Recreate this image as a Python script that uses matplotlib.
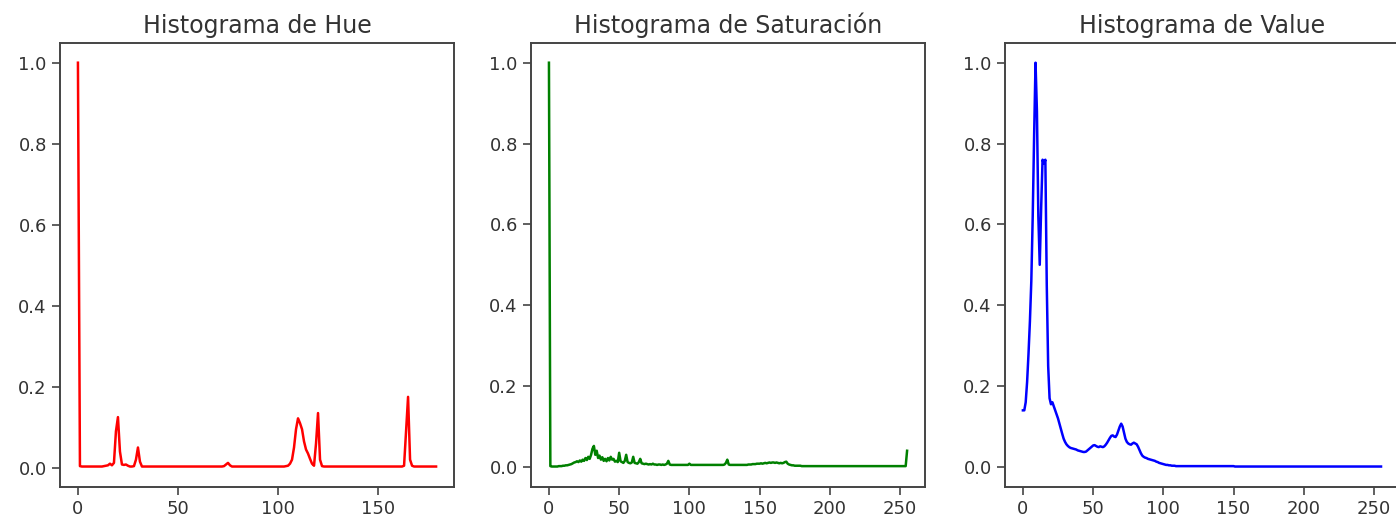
import matplotlib

matplotlib.use('Agg')
import matplotlib.pyplot as plt
import numpy as np

# normalized histograms (max = 1)
hue = [
    1.0, 0.004, 0.003, 0.003, 0.003, 0.003, 0.003, 0.003, 0.003, 0.003,
    0.003, 0.003, 0.003, 0.004, 0.005, 0.006, 0.010, 0.006, 0.012, 0.090,
    0.125, 0.040, 0.008, 0.007, 0.008, 0.005, 0.003, 0.003, 0.004, 0.020,
    0.050, 0.015, 0.003, 0.003, 0.003, 0.003, 0.003, 0.003, 0.003, 0.003,
    0.003, 0.003, 0.003, 0.003, 0.003, 0.003, 0.003, 0.003, 0.003, 0.003,
    0.003, 0.003, 0.003, 0.003, 0.003, 0.003, 0.003, 0.003, 0.003, 0.003,
    0.003, 0.003, 0.003, 0.003, 0.003, 0.003, 0.003, 0.003, 0.003, 0.003,
    0.003, 0.003, 0.003, 0.004, 0.008, 0.012, 0.006, 0.003, 0.003, 0.003,
    0.003, 0.003, 0.003, 0.003, 0.003, 0.003, 0.003, 0.003, 0.003, 0.003,
    0.003, 0.003, 0.003, 0.003, 0.003, 0.003, 0.003, 0.003, 0.003, 0.003,
    0.003, 0.003, 0.003, 0.003, 0.004, 0.005, 0.010, 0.020, 0.050, 0.095,
    0.122, 0.110, 0.095, 0.065, 0.045, 0.035, 0.022, 0.010, 0.005, 0.060,
    0.135, 0.020, 0.004, 0.003, 0.003, 0.003, 0.003, 0.003, 0.003, 0.003,
    0.003, 0.003, 0.003, 0.003, 0.003, 0.003, 0.003, 0.003, 0.003, 0.003,
    0.003, 0.003, 0.003, 0.003, 0.003, 0.003, 0.003, 0.003, 0.003, 0.003,
    0.003, 0.003, 0.003, 0.003, 0.003, 0.003, 0.003, 0.003, 0.003, 0.003,
    0.003, 0.003, 0.003, 0.005, 0.090, 0.175, 0.020, 0.005, 0.003, 0.003,
    0.003, 0.003, 0.003, 0.003, 0.003, 0.003, 0.003, 0.003, 0.003, 0.003,
]

saturation = [
    1.0, 0.002, 0.001, 0.001, 0.001, 0.001, 0.001, 0.002, 0.002, 0.002,
    0.003, 0.003, 0.004, 0.004, 0.005, 0.006, 0.007, 0.009, 0.011, 0.012,
    0.014, 0.012, 0.016, 0.013, 0.018, 0.015, 0.022, 0.017, 0.025, 0.020,
    0.030, 0.045, 0.052, 0.030, 0.040, 0.022, 0.028, 0.018, 0.024, 0.015,
    0.020, 0.014, 0.022, 0.016, 0.025, 0.018, 0.020, 0.013, 0.015, 0.012,
    0.035, 0.014, 0.012, 0.010, 0.015, 0.030, 0.012, 0.010, 0.009, 0.011,
    0.025, 0.010, 0.009, 0.008, 0.012, 0.020, 0.009, 0.008, 0.007, 0.008,
    0.007, 0.006, 0.007, 0.006, 0.008, 0.006, 0.006, 0.005, 0.006, 0.006,
    0.005, 0.006, 0.005, 0.006, 0.008, 0.015, 0.006, 0.005, 0.005, 0.005,
    0.005, 0.005, 0.005, 0.005, 0.005, 0.005, 0.005, 0.005, 0.005, 0.005,
    0.008, 0.005, 0.005, 0.005, 0.005, 0.005, 0.005, 0.005, 0.005, 0.005,
    0.005, 0.005, 0.005, 0.005, 0.005, 0.005, 0.005, 0.005, 0.005, 0.005,
    0.005, 0.005, 0.005, 0.005, 0.005, 0.006, 0.010, 0.018, 0.006, 0.005,
    0.005, 0.005, 0.005, 0.005, 0.005, 0.005, 0.005, 0.005, 0.005, 0.005,
    0.005, 0.005, 0.006, 0.006, 0.006, 0.007, 0.007, 0.007, 0.008, 0.008,
    0.008, 0.009, 0.008, 0.009, 0.010, 0.009, 0.010, 0.011, 0.010, 0.011,
    0.011, 0.010, 0.011, 0.010, 0.009, 0.010, 0.009, 0.010, 0.012, 0.013,
    0.008, 0.006, 0.005, 0.004, 0.004, 0.003, 0.003, 0.003, 0.003, 0.003,
    0.002, 0.002, 0.002, 0.002, 0.002, 0.002, 0.002, 0.002, 0.002, 0.002,
    0.002, 0.002, 0.002, 0.002, 0.002, 0.002, 0.002, 0.002, 0.002, 0.002,
    0.002, 0.002, 0.002, 0.002, 0.002, 0.002, 0.002, 0.002, 0.002, 0.002,
    0.002, 0.002, 0.002, 0.002, 0.002, 0.002, 0.002, 0.002, 0.002, 0.002,
    0.002, 0.002, 0.002, 0.002, 0.002, 0.002, 0.002, 0.002, 0.002, 0.002,
    0.002, 0.002, 0.002, 0.002, 0.002, 0.002, 0.002, 0.002, 0.002, 0.002,
    0.002, 0.002, 0.002, 0.002, 0.002, 0.002, 0.002, 0.002, 0.002, 0.002,
    0.002, 0.002, 0.002, 0.002, 0.002, 0.040,
]

value = [
    0.140, 0.140, 0.160, 0.210, 0.280, 0.360, 0.460, 0.620, 0.820, 1.000,
    0.880, 0.620, 0.500, 0.640, 0.760, 0.750, 0.760, 0.450, 0.250, 0.170,
    0.155, 0.160, 0.150, 0.140, 0.130, 0.120, 0.107, 0.095, 0.082, 0.070,
    0.062, 0.056, 0.052, 0.049, 0.047, 0.046, 0.045, 0.044, 0.043, 0.041,
    0.040, 0.039, 0.038, 0.037, 0.037, 0.038, 0.041, 0.044, 0.047, 0.050,
    0.053, 0.054, 0.052, 0.050, 0.049, 0.051, 0.050, 0.049, 0.051, 0.055,
    0.060, 0.066, 0.072, 0.077, 0.078, 0.075, 0.074, 0.080, 0.090, 0.100,
    0.107, 0.100, 0.085, 0.070, 0.062, 0.058, 0.056, 0.055, 0.058, 0.060,
    0.058, 0.056, 0.050, 0.042, 0.034, 0.028, 0.025, 0.023, 0.022, 0.020,
    0.019, 0.018, 0.017, 0.016, 0.015, 0.013, 0.012, 0.010, 0.009, 0.008,
    0.007, 0.006, 0.005, 0.005, 0.004, 0.004, 0.003, 0.003, 0.003, 0.002,
    0.002, 0.002, 0.002, 0.002, 0.002, 0.002, 0.002, 0.002, 0.002, 0.002,
    0.002, 0.002, 0.002, 0.002, 0.002, 0.002, 0.002, 0.002, 0.002, 0.002,
    0.002, 0.002, 0.002, 0.002, 0.002, 0.002, 0.002, 0.002, 0.002, 0.002,
    0.002, 0.002, 0.002, 0.002, 0.002, 0.002, 0.002, 0.002, 0.002, 0.002,
    0.002, 0.001, 0.001, 0.001, 0.001, 0.001, 0.001, 0.001, 0.001, 0.001,
    0.001, 0.001, 0.001, 0.001, 0.001, 0.001, 0.001, 0.001, 0.001, 0.001,
    0.001, 0.001, 0.001, 0.001, 0.001, 0.001, 0.001, 0.001, 0.001, 0.001,
    0.001, 0.001, 0.001, 0.001, 0.001, 0.001, 0.001, 0.001, 0.001, 0.001,
    0.001, 0.001, 0.001, 0.001, 0.001, 0.001, 0.001, 0.001, 0.001, 0.001,
    0.001, 0.001, 0.001, 0.001, 0.001, 0.001, 0.001, 0.001, 0.001, 0.001,
    0.001, 0.001, 0.001, 0.001, 0.001, 0.001, 0.001, 0.001, 0.001, 0.001,
    0.001, 0.001, 0.001, 0.001, 0.001, 0.001, 0.001, 0.001, 0.001, 0.001,
    0.001, 0.001, 0.001, 0.001, 0.001, 0.001, 0.001, 0.001, 0.001, 0.001,
    0.001, 0.001, 0.001, 0.001, 0.001, 0.001, 0.001, 0.001, 0.001, 0.001,
    0.001, 0.001, 0.001, 0.001, 0.001, 0.001,
]

titles = ["Histograma de Hue", "Histograma de Saturación", "Histograma de Value"]
colors = ["r", "g", "b"]

fig = plt.figure(figsize=(13.96, 5.21), dpi=100)
lefts = [0.043, 0.3804, 0.7199]
for i, h in enumerate([hue, saturation, value]):
    ax = fig.add_axes([lefts[i], 0.0658, 0.2822, 0.8526])
    ax.plot(np.arange(len(h)), h, color=colors[i], linewidth=1.8)
    ax.set_title(titles[i], fontsize=17, pad=7, color="#333333")
    ax.tick_params(labelsize=13, length=6, width=1.2, pad=3.5,
                   colors="#444444", labelcolor="#333333")
    for s in ax.spines.values():
        s.set_linewidth(1.4)
        s.set_color("#444444")

fig.savefig("out.png", dpi=100)
